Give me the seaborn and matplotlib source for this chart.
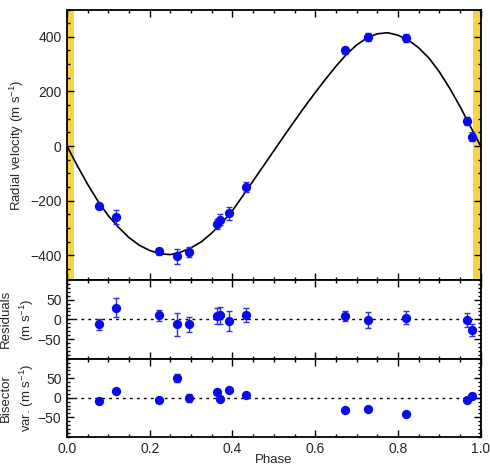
import numpy as np
import pandas as pd
import matplotlib
matplotlib.use("Agg")
import matplotlib.pyplot as plt
import seaborn as sns

# ---- data ----
phase = [0.077, 0.118, 0.222, 0.266, 0.295, 0.363, 0.370, 0.392, 0.433,
         0.672, 0.727, 0.820, 0.967, 0.979]
rv = [-220, -260, -385, -403, -388, -285, -270, -246, -150,
      350, 400, 395, 92, 35]
rv_err = [10, 25, 12, 28, 18, 18, 20, 25, 18, 12, 15, 14, 14, 18]
resid = [-13, 30, 10, -13, -13, 8, 10, -5, 10, 8, -2, 4, -2, -27]
resid_err = [15, 25, 15, 30, 20, 20, 22, 25, 18, 12, 20, 17, 18, 15]
bis = [-8, 18, -5, 50, 0, 15, -3, 20, 8, -31, -29, -41, -6, 4]
bis_err = [4, 4, 4, 10, 10, 4, 4, 4, 4, 4, 4, 4, 4, 4]

model_phase = [0.000, 0.025, 0.050, 0.075, 0.100, 0.125, 0.150, 0.175, 0.200,
               0.225, 0.250, 0.275, 0.300, 0.325, 0.350, 0.375, 0.400, 0.425,
               0.450, 0.475, 0.500, 0.525, 0.550, 0.575, 0.600, 0.625, 0.650,
               0.675, 0.700, 0.725, 0.750, 0.775, 0.800, 0.825, 0.850, 0.875,
               0.900, 0.925, 0.950, 0.975, 1.000]
model_rv = [0, -72, -140, -202, -255, -298, -335, -363, -382,
            -394, -397, -388, -372, -350, -318, -280, -236, -182,
            -127, -72, -17, 38, 92, 145, 196, 245, 292,
            335, 370, 396, 411, 415, 406, 388, 360, 322,
            272, 212, 145, 72, 0]

transit_bands = [(0.0, 0.017), (0.981, 1.0)]

xticks = [0.0, 0.2, 0.4, 0.6, 0.8, 1.0]
xticklabels = ["0.0", "0.2", "0.4", "0.6", "0.8", "1.0"]
rv_ticks = [-400, -200, 0, 200, 400]
small_ticks = [-50, 0, 50]

# ---- style ----
sns.set_style("ticks")
plt.rcParams["font.family"] = ["Liberation Sans", "DejaVu Sans"]
plt.rcParams["mathtext.fontset"] = "custom"
plt.rcParams["mathtext.rm"] = "Liberation Sans"
plt.rcParams["mathtext.it"] = "Liberation Sans"

df = pd.DataFrame({"phase": phase, "rv": rv, "rv_err": rv_err,
                   "resid": resid, "resid_err": resid_err,
                   "bis": bis, "bis_err": bis_err})
mdf = pd.DataFrame({"phase": model_phase, "rv": model_rv})

fig = plt.figure(figsize=(4.9, 4.68), dpi=100)
L, W = 67 / 490, 413.7 / 490
ax1 = fig.add_axes([L, 1 - 280 / 468, W, 270.5 / 468])
ax2 = fig.add_axes([L, 1 - 358.7 / 468, W, 78.7 / 468])
ax3 = fig.add_axes([L, 1 - 436.7 / 468, W, 78.0 / 468])

blue = "#0a0aee"
ebc = "#3030e0"
fs = 10

# main panel
for a, b in transit_bands:
    ax1.axvspan(a, b, color="#f7d445", lw=0, zorder=0)
sns.lineplot(data=mdf, x="phase", y="rv", ax=ax1, color="black", lw=1.2,
             zorder=2, legend=False)
ax1.errorbar(df["phase"], df["rv"], yerr=df["rv_err"], fmt="none",
             ecolor=ebc, elinewidth=1.0, capsize=2.2, capthick=1.0, zorder=3)
sns.scatterplot(data=df, x="phase", y="rv", ax=ax1, color=blue, s=45,
                linewidth=0, zorder=4)
ax1.set_ylim(-490, 500)
ax1.set_yticks(rv_ticks)
ax1.set_ylabel("Radial velocity (m s$^{-1}$)", fontsize=9.5)

# residuals
ax2.axhline(0, color="black", ls=(0, (2, 3)), lw=1.0, zorder=1)
ax2.errorbar(df["phase"], df["resid"], yerr=df["resid_err"], fmt="none",
             ecolor=ebc, elinewidth=1.0, capsize=2.2, capthick=1.0, zorder=3)
sns.scatterplot(data=df, x="phase", y="resid", ax=ax2, color=blue, s=45,
                linewidth=0, zorder=4)
ax2.set_ylim(-100, 100)
ax2.set_yticks(small_ticks)
ax2.set_ylabel("Residuals\n(m s$^{-1}$)", fontsize=9.5, linespacing=1.45)

# bisector
ax3.axhline(0, color="black", ls=(0, (2, 3)), lw=1.0, zorder=1)
ax3.errorbar(df["phase"], df["bis"], yerr=df["bis_err"], fmt="none",
             ecolor=ebc, elinewidth=1.0, capsize=2.2, capthick=1.0, zorder=3)
sns.scatterplot(data=df, x="phase", y="bis", ax=ax3, color=blue, s=45,
                linewidth=0, zorder=4)
ax3.set_ylim(-100, 100)
ax3.set_yticks(small_ticks)
ax3.set_ylabel("Bisector\nvar. (m s$^{-1}$)", fontsize=9.5, linespacing=1.45)
ax3.set_xlabel("Phase", fontsize=9.5, labelpad=-1.5)

for ax, minor in ((ax1, 50), (ax2, 10), (ax3, 10)):
    ax.set_xlim(0, 1)
    ax.set_xticks(xticks)
    ax.xaxis.set_minor_locator(matplotlib.ticker.MultipleLocator(0.05))
    ax.yaxis.set_minor_locator(matplotlib.ticker.MultipleLocator(minor))
    ax.tick_params(which="both", direction="in", top=True, right=True,
                   labelsize=fs, width=1.0, color="black")
    ax.tick_params(which="major", length=5, pad=4)
    ax.tick_params(which="minor", length=2.5)
    for s in ax.spines.values():
        s.set_linewidth(1.3)
        s.set_color("black")
    if ax is not ax3:
        ax.set_xticklabels([])
        ax.set_xlabel("")
    else:
        ax.set_xticklabels(xticklabels)

# y label positions (right edge of the rotated text, in axes fraction)
ax1.yaxis.set_label_coords(-0.098, 0.5)
ax2.yaxis.set_label_coords(-0.075, 0.5)
ax3.yaxis.set_label_coords(-0.075, 0.5)

fig.savefig("out.png", dpi=100)
